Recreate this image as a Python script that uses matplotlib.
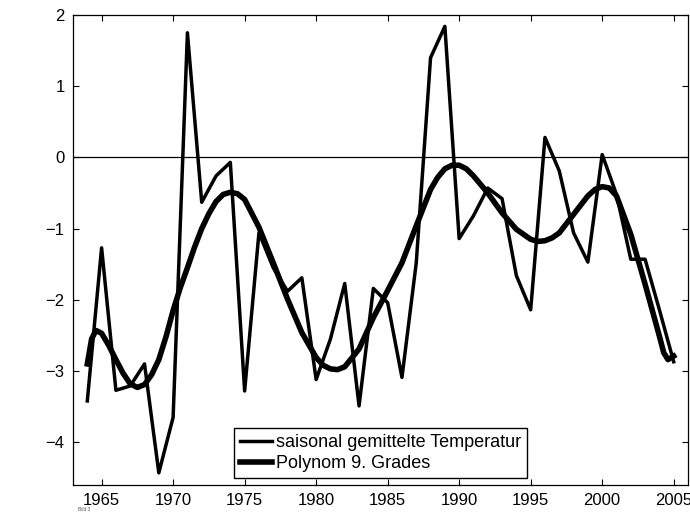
import matplotlib
matplotlib.use("Agg")
import matplotlib.pyplot as plt

plt.rcParams["font.family"] = ["Liberation Sans", "DejaVu Sans"]

# seasonal averaged temperature, one value per year
years = list(range(1964, 2006))
temp = [-3.42, -1.27, -3.27, -3.21, -2.90, -4.43, -3.65, 1.75, -0.63, -0.26,
        -0.07, -3.28, -1.06, -1.55, -1.88, -1.69, -3.12, -2.55, -1.77, -3.49,
        -1.84, -2.04, -3.09, -1.48, 1.40, 1.84, -1.14, -0.82, -0.43, -0.58,
        -1.66, -2.14, 0.28, -0.19, -1.06, -1.47, 0.04, -0.52, -1.43, -1.43,
        -2.14, -2.87]

# 9th degree polynomial
poly_years = [1964, 1964.3, 1964.6, 1965, 1965.5, 1966, 1966.5, 1967, 1967.5, 1968,
              1968.5, 1969, 1969.5, 1970, 1970.5, 1971, 1971.5, 1972, 1972.5, 1973,
              1973.5, 1974, 1974.5, 1975, 1976, 1977, 1978, 1979, 1980, 1980.5,
              1981, 1981.5, 1982, 1983, 1984, 1985, 1986, 1987, 1988, 1988.5,
              1989, 1989.5, 1990, 1990.5, 1991, 1992, 1993, 1994, 1995, 1995.5,
              1996, 1996.5, 1997, 1998, 1999, 1999.5, 2000, 2000.5, 2001, 2002,
              2003, 2004, 2004.3, 2004.6, 2005]
poly_vals = [-2.90, -2.55, -2.43, -2.47, -2.64, -2.84, -3.03, -3.18, -3.23, -3.19,
             -3.05, -2.84, -2.52, -2.15, -1.83, -1.55, -1.26, -1.00, -0.79, -0.62,
             -0.52, -0.49, -0.51, -0.59, -0.98, -1.48, -1.99, -2.46, -2.81, -2.92,
             -2.97, -2.98, -2.94, -2.69, -2.25, -1.87, -1.48, -0.96, -0.45, -0.28,
             -0.16, -0.11, -0.11, -0.16, -0.26, -0.50, -0.78, -1.01, -1.15, -1.18,
             -1.17, -1.13, -1.06, -0.80, -0.54, -0.45, -0.41, -0.43, -0.54, -1.08,
             -1.78, -2.51, -2.74, -2.84, -2.79]

fig = plt.figure(figsize=(6.9, 5.15), dpi=100)
ax = fig.add_axes([0.1058, 0.0583, 0.8913, 0.9126])

ax.plot(years, temp, color="black", lw=2.5, solid_joinstyle="round",
        label="saisonal gemittelte Temperatur")
ax.plot(poly_years, poly_vals, color="black", lw=4.0, solid_joinstyle="round",
        label="Polynom 9. Grades")
ax.axhline(0, color="black", lw=0.9)

ax.set_xlim(1963, 2006)
ax.set_ylim(-4.6, 2)
ax.set_xticks(range(1965, 2006, 5))
ax.set_yticks(range(-4, 3))
ax.tick_params(direction="in", length=4.5, width=0.8, top=True, right=True,
               labelsize=12, pad=6)
for s in ax.spines.values():
    s.set_linewidth(0.9)

leg = ax.legend(loc="lower center", fontsize=13, fancybox=False, framealpha=1,
                edgecolor="black", handlelength=1.8, handletextpad=0.2,
                labelspacing=0.25, borderaxespad=0.4, borderpad=0.3)
leg.get_frame().set_linewidth(1.0)

fig.text(0.113, 0.008, "Bild 3", fontsize=3.5, color="#555555")

fig.savefig("out.png", dpi=100)
